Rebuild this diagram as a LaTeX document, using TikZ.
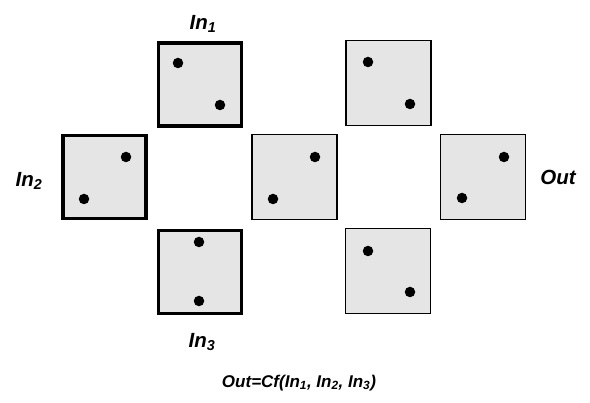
\documentclass[tikz,border=0pt]{standalone}
\usepackage{fontspec}
\setmainfont{Liberation Sans}
\tikzset{
  grid/.style={draw=black, fill=black!10, minimum width=85pt, minimum height=85pt, inner sep=0pt, line width=1.2pt},
  thickgrid/.style={grid, line width=3.2pt, minimum width=83pt, minimum height=83pt},
  dot/.style={circle, fill=black, inner sep=0pt, minimum size=10.5pt},
  lab/.style={font=\fontsize{20.5}{24}\selectfont\bfseries\itshape, inner sep=0pt},
  formula/.style={font=\fontsize{17}{20}\selectfont\bfseries\itshape, inner sep=0pt}
}
\begin{document}
\begin{tikzpicture}[x=1pt,y=-1pt]
\useasboundingbox (0,0) rectangle (590,403);
% boxes
\node[thickgrid] (b1) at (200,84.5) {};
\node[thickgrid] (b2) at (104.5,177) {};
\node[thickgrid] (b3) at (200,272) {};
\node[grid] (m) at (294.5,177) {};
\node[grid] (tr) at (388.5,83) {};
\node[grid] (br) at (388,271) {};
\node[grid] (o) at (483,177) {};
% dots
\node[dot] (d1a) at (178,63) {};
\node[dot] (d1b) at (220,105) {};
\node[dot] (d2a) at (126,157) {};
\node[dot] (d2b) at (84,199) {};
\node[dot] (d3a) at (199,242) {};
\node[dot] (d3b) at (199,301) {};
\node[dot] (dma) at (315,157) {};
\node[dot] (dmb) at (273,199) {};
\node[dot] (dta) at (368,62) {};
\node[dot] (dtb) at (410,104) {};
\node[dot] (dba) at (368,251) {};
\node[dot] (dbb) at (410,292) {};
\node[dot] (doa) at (504,157) {};
\node[dot] (dob) at (462,198) {};
% labels
\node[lab] (l1) at (203,24) {In\textsubscript{1}};
\node[lab] (l2) at (29,181) {In\textsubscript{2}};
\node[lab] (l3) at (202,342) {In\textsubscript{3}};
\node[lab] (lo) at (558,177) {Out};
\node[formula] (f) at (299,383) {Out=Cf(In\textsubscript{1}, In\textsubscript{2}, In\textsubscript{3})};
\end{tikzpicture}
\end{document}
